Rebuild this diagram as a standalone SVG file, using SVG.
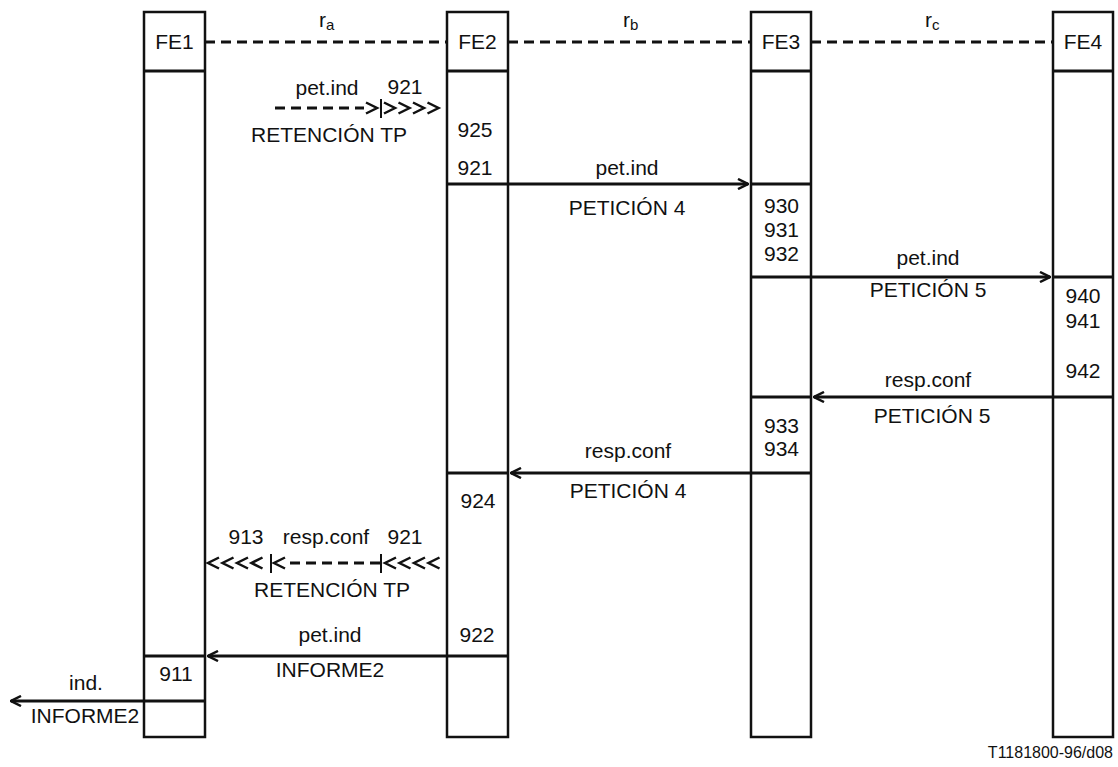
<svg xmlns="http://www.w3.org/2000/svg" width="1118" height="767" viewBox="0 0 1118 767">
<defs>
<style>
text{font-family:"Liberation Sans",Arial,sans-serif;font-size:21px;fill:#111}
.m{text-anchor:middle}
.sub{font-size:15px}
.box{fill:#fff;stroke:#111;stroke-width:2.5}
.sep{stroke:#111;stroke-width:3}
.bar{stroke:#111;stroke-width:2}
.dash{stroke:#111;stroke-width:3;stroke-dasharray:10 6;fill:none}
.arr{stroke:#111;stroke-width:3;fill:none;marker-end:url(#ah)}
.chev{fill:none;stroke:#111;stroke-width:2.5}
</style>
<marker id="ah" viewBox="0 0 12 12" refX="11" refY="6" markerWidth="12" markerHeight="12" markerUnits="userSpaceOnUse" orient="auto">
<polyline points="1,1 11,6 1,11" fill="none" stroke="#111" stroke-width="2.5"/>
</marker>
<polyline id="gt" class="chev" points="0,-5.5 11,0 0,5.5"/>
<polyline id="lt" class="chev" points="11,-5.5 0,0 11,5.5"/>
</defs>
<rect width="1118" height="767" fill="#fff"/>

<g id="FE1">
<rect class="box" x="144" y="12" width="61" height="725"/>
<line class="sep" x1="144" y1="71" x2="205" y2="71"/>
<text class="m" x="174.5" y="49">FE1</text>
<line class="sep" x1="144" y1="656" x2="205" y2="656"/>
<line class="sep" x1="144" y1="701" x2="205" y2="701"/>
<text class="m" x="176" y="681">911</text>
</g>
<g id="FE2">
<rect class="box" x="447" y="12" width="61" height="725"/>
<line class="sep" x1="447" y1="71" x2="508" y2="71"/>
<text class="m" x="477.5" y="49">FE2</text>
<line class="sep" x1="447" y1="184" x2="508" y2="184"/>
<line class="sep" x1="447" y1="473" x2="508" y2="473"/>
<line class="sep" x1="447" y1="656" x2="508" y2="656"/>
<text class="m" x="475" y="137">925</text>
<text class="m" x="475" y="175">921</text>
<text class="m" x="478" y="508">924</text>
<text class="m" x="477" y="642">922</text>
</g>
<g id="FE3">
<rect class="box" x="751" y="12" width="60" height="725"/>
<line class="sep" x1="751" y1="71" x2="811" y2="71"/>
<text class="m" x="781" y="49">FE3</text>
<line class="sep" x1="751" y1="184" x2="811" y2="184"/>
<line class="sep" x1="751" y1="277" x2="811" y2="277"/>
<line class="sep" x1="751" y1="397" x2="811" y2="397"/>
<line class="sep" x1="751" y1="473" x2="811" y2="473"/>
<text x="764" y="213">930</text>
<text x="764" y="237">931</text>
<text x="764" y="261">932</text>
<text x="764" y="433">933</text>
<text x="764" y="456">934</text>
</g>
<g id="FE4">
<rect class="box" x="1053" y="12" width="60" height="725"/>
<line class="sep" x1="1053" y1="71" x2="1113" y2="71"/>
<text class="m" x="1083" y="49">FE4</text>
<line class="sep" x1="1053" y1="277" x2="1113" y2="277"/>
<line class="sep" x1="1053" y1="397" x2="1113" y2="397"/>
<text class="m" x="1083" y="303">940</text>
<text class="m" x="1083" y="328">941</text>
<text class="m" x="1083" y="378">942</text>
</g>

<g id="connectors">
<line class="dash" x1="205" y1="42" x2="447" y2="42"/>
<line class="dash" x1="508" y1="42" x2="751" y2="42"/>
<line class="dash" x1="811" y1="42" x2="1053" y2="42"/>
<text x="319" y="27">r<tspan class="sub" dy="3">a</tspan></text>
<text x="623" y="27">r<tspan class="sub" dy="3">b</tspan></text>
<text x="925" y="27">r<tspan class="sub" dy="3">c</tspan></text>

<line class="dash" x1="275" y1="108" x2="364" y2="108"/>
<use href="#gt" x="366" y="108"/>
<line class="bar" x1="381" y1="99" x2="381" y2="118"/>
<use href="#gt" x="384" y="108"/>
<use href="#gt" x="398.5" y="108"/>
<use href="#gt" x="413" y="108"/>
<use href="#gt" x="427.5" y="108"/>
<text class="m" x="327" y="95">pet.ind</text>
<text class="m" x="405" y="94">921</text>
<text class="m" x="329" y="142">RETENCIÓN TP</text>

<line class="arr" x1="508" y1="184" x2="748" y2="184"/>
<text class="m" x="627" y="175">pet.ind</text>
<text class="m" x="627" y="215">PETICIÓN 4</text>

<line class="arr" x1="811" y1="277" x2="1050" y2="277"/>
<text class="m" x="928" y="265">pet.ind</text>
<text class="m" x="928" y="297">PETICIÓN 5</text>

<line class="arr" x1="1053" y1="397" x2="814" y2="397"/>
<text class="m" x="928" y="387">resp.conf</text>
<text class="m" x="932" y="423">PETICIÓN 5</text>

<line class="arr" x1="751" y1="473" x2="511" y2="473"/>
<text class="m" x="628" y="458">resp.conf</text>
<text class="m" x="628" y="498">PETICIÓN 4</text>

<text class="m" x="246" y="544">913</text>
<text class="m" x="326" y="544">resp.conf</text>
<text class="m" x="405" y="544">921</text>
<use href="#lt" x="208" y="563"/>
<use href="#lt" x="222.5" y="563"/>
<use href="#lt" x="237" y="563"/>
<use href="#lt" x="251.5" y="563"/>
<line class="bar" x1="271" y1="554" x2="271" y2="573"/>
<use href="#lt" x="274" y="563"/>
<line class="dash" x1="290" y1="563" x2="380" y2="563"/>
<line class="bar" x1="381" y1="554" x2="381" y2="573"/>
<use href="#lt" x="385" y="563"/>
<use href="#lt" x="399.5" y="563"/>
<use href="#lt" x="414" y="563"/>
<use href="#lt" x="428.5" y="563"/>
<text class="m" x="332" y="597">RETENCIÓN TP</text>

<line class="arr" x1="447" y1="656" x2="208" y2="656"/>
<text class="m" x="330" y="642">pet.ind</text>
<text class="m" x="330" y="677">INFORME2</text>

<line class="arr" x1="144" y1="701" x2="11" y2="701"/>
<text class="m" x="86" y="690">ind.</text>
<text class="m" x="85" y="723">INFORME2</text>
</g>

<text x="1113" y="758" style="font-size:16px;text-anchor:end">T1181800-96/d08</text>
</svg>
